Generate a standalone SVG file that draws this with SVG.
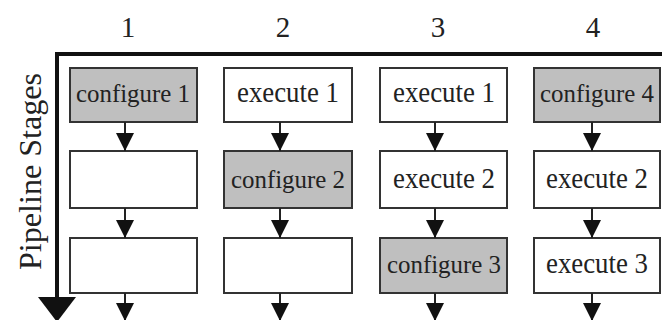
<svg xmlns="http://www.w3.org/2000/svg" width="662" height="320" viewBox="0 0 662 320">
  <style>
    .box { fill: #ffffff; stroke: #333333; stroke-width: 2; }
    .cfg { fill: #bfbfbf; }
    .lbl { font-family: "Liberation Serif", "Times New Roman", serif; font-size: 29px; fill: #222222; text-anchor: middle; }
    .lbl.c { font-size: 26px; }
    .hdr { font-family: "Liberation Serif", "Times New Roman", serif; font-size: 29px; fill: #222222; text-anchor: middle; }
    .axis-title { font-family: "Liberation Serif", "Times New Roman", serif; font-size: 32px; fill: #222222; text-anchor: middle; }
    .flow { stroke: #222222; stroke-width: 2; fill: none; marker-end: url(#tip); }
    .axis { stroke: #111111; stroke-width: 4; fill: none; }
  </style>
  <defs>
    <marker id="tip" viewBox="0 0 18 18" refX="18" refY="9" markerWidth="18" markerHeight="18" markerUnits="userSpaceOnUse" orient="auto">
      <path d="M0,0 L18,9 L0,18 z" fill="#111111"/>
    </marker>
  </defs>

  <rect width="662" height="320" fill="#ffffff"/>

  <!-- time axis labels -->
  <g id="time-labels">
    <text class="hdr" x="128" y="37">1</text>
    <text class="hdr" x="283" y="37">2</text>
    <text class="hdr" x="438" y="37">3</text>
    <text class="hdr" x="593" y="37">4</text>
  </g>

  <!-- axes -->
  <g id="axes">
    <path class="axis" d="M57,54 H662"/>
    <path class="axis" d="M57,52 V300"/>
    <path d="M38,297 L76,297 L57,322 z" fill="#111111"/>
    <text class="axis-title" transform="translate(41,171.5) rotate(-90)" textLength="197" lengthAdjust="spacingAndGlyphs">Pipeline Stages</text>
  </g>

  <!-- column 1 -->
  <g id="c1r1"><rect class="box cfg" x="70" y="68" width="127" height="54"/><text class="lbl c" x="133" y="102" textLength="114" lengthAdjust="spacingAndGlyphs">configure 1</text></g>
  <g id="c1r2"><rect class="box" x="70" y="151" width="127" height="57"/></g>
  <g id="c1r3"><rect class="box" x="70" y="238" width="127" height="55"/></g>

  <!-- column 2 -->
  <g id="c2r1"><rect class="box" x="224" y="68" width="128" height="54"/><text class="lbl" x="288" y="102" textLength="102" lengthAdjust="spacingAndGlyphs">execute 1</text></g>
  <g id="c2r2"><rect class="box cfg" x="224" y="151" width="128" height="57"/><text class="lbl c" x="288" y="188" textLength="114" lengthAdjust="spacingAndGlyphs">configure 2</text></g>
  <g id="c2r3"><rect class="box" x="224" y="238" width="128" height="55"/></g>

  <!-- column 3 -->
  <g id="c3r1"><rect class="box" x="380" y="68" width="127" height="54"/><text class="lbl" x="444" y="102" textLength="102" lengthAdjust="spacingAndGlyphs">execute 1</text></g>
  <g id="c3r2"><rect class="box" x="380" y="151" width="127" height="57"/><text class="lbl" x="444" y="188" textLength="102" lengthAdjust="spacingAndGlyphs">execute 2</text></g>
  <g id="c3r3"><rect class="box cfg" x="380" y="238" width="127" height="55"/><text class="lbl c" x="444" y="273" textLength="114" lengthAdjust="spacingAndGlyphs">configure 3</text></g>

  <!-- column 4 -->
  <g id="c4r1"><rect class="box cfg" x="534" y="68" width="126" height="54"/><text class="lbl c" x="597" y="102" textLength="114" lengthAdjust="spacingAndGlyphs">configure 4</text></g>
  <g id="c4r2"><rect class="box" x="534" y="151" width="126" height="57"/><text class="lbl" x="597" y="188" textLength="102" lengthAdjust="spacingAndGlyphs">execute 2</text></g>
  <g id="c4r3"><rect class="box" x="534" y="238" width="126" height="55"/><text class="lbl" x="597" y="273" textLength="102" lengthAdjust="spacingAndGlyphs">execute 3</text></g>

  <!-- stage-to-stage connectors -->
  <g id="connectors">
    <path class="flow" d="M125,122 V151"/>
    <path class="flow" d="M125,208 V238"/>
    <path class="flow" d="M125,293 V321"/>
    <path class="flow" d="M280,122 V151"/>
    <path class="flow" d="M280,208 V238"/>
    <path class="flow" d="M280,293 V321"/>
    <path class="flow" d="M435,122 V151"/>
    <path class="flow" d="M435,208 V238"/>
    <path class="flow" d="M435,293 V321"/>
    <path class="flow" d="M592,122 V151"/>
    <path class="flow" d="M592,208 V238"/>
    <path class="flow" d="M592,293 V321"/>
  </g>
</svg>
